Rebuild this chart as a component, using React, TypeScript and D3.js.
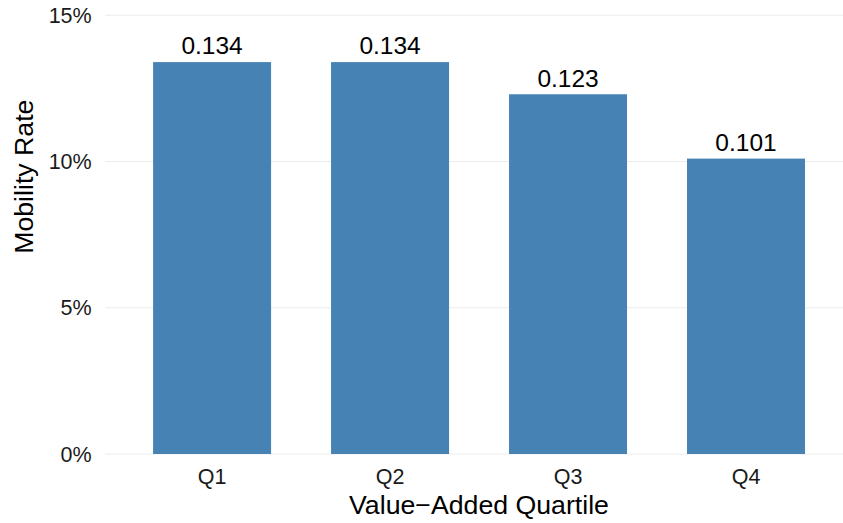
import React from "react";
import * as d3 from "d3";

const categories = ["Q1", "Q2", "Q3", "Q4"];
const values = [0.134, 0.134, 0.123, 0.101];
const labels = ["0.134", "0.134", "0.123", "0.101"];
const yTicks = [0, 0.05, 0.1, 0.15];

const W = 843;
const H = 523;
const FONT = "'Liberation Sans', Arial, Helvetica, sans-serif";

export default function App() {
  const x = d3.scalePoint<string>().domain(categories).range([105.3, 852.8]).padding(0.6);
  const y = d3.scaleLinear().domain([0, 0.15]).range([454, 15.3]);
  const step = x.step();
  const bw = step * 0.663;
  const fmt = d3.format(".0%");

  return (
    <svg width={W} height={H} style={{ position: "absolute", left: 0, top: 0 }} fontFamily={FONT}>
      <rect width={W} height={H} fill="#fff" />
      {yTicks.map((t) => (
        <line key={"g" + t} x1={105.3} x2={852.8} y1={y(t)} y2={y(t)} stroke="#ebebeb" strokeWidth={1.1} />
      ))}
      {categories.map((c, i) => (
        <rect key={c} x={x(c)! - bw / 2} y={y(values[i])} width={bw} height={y(0) - y(values[i])} fill="#4682b4" />
      ))}
      {categories.map((c, i) => (
        <text key={"l" + c} x={x(c)!} y={y(values[i]) - 7.7} textAnchor="middle" fontSize={24.5} fill="#000">
          {labels[i]}
        </text>
      ))}
      {yTicks.map((t) => (
        <text key={"t" + t} x={91.7} y={y(t) + 7.7} textAnchor="end" fontSize={21.5} fill="#1a1a1a">
          {fmt(t)}
        </text>
      ))}
      {categories.map((c) => (
        <text key={"x" + c} x={x(c)!} y={483.6} textAnchor="middle" fontSize={21.5} fill="#1a1a1a">
          {c}
        </text>
      ))}
      <text x={479} y={514} textAnchor="middle" fontSize={26.7} fill="#000">
        Value−Added Quartile
      </text>
      <text transform={`translate(33.2,176.7) rotate(-90)`} textAnchor="middle" fontSize={26.7} fill="#000">
        Mobility Rate
      </text>
    </svg>
  );
}
